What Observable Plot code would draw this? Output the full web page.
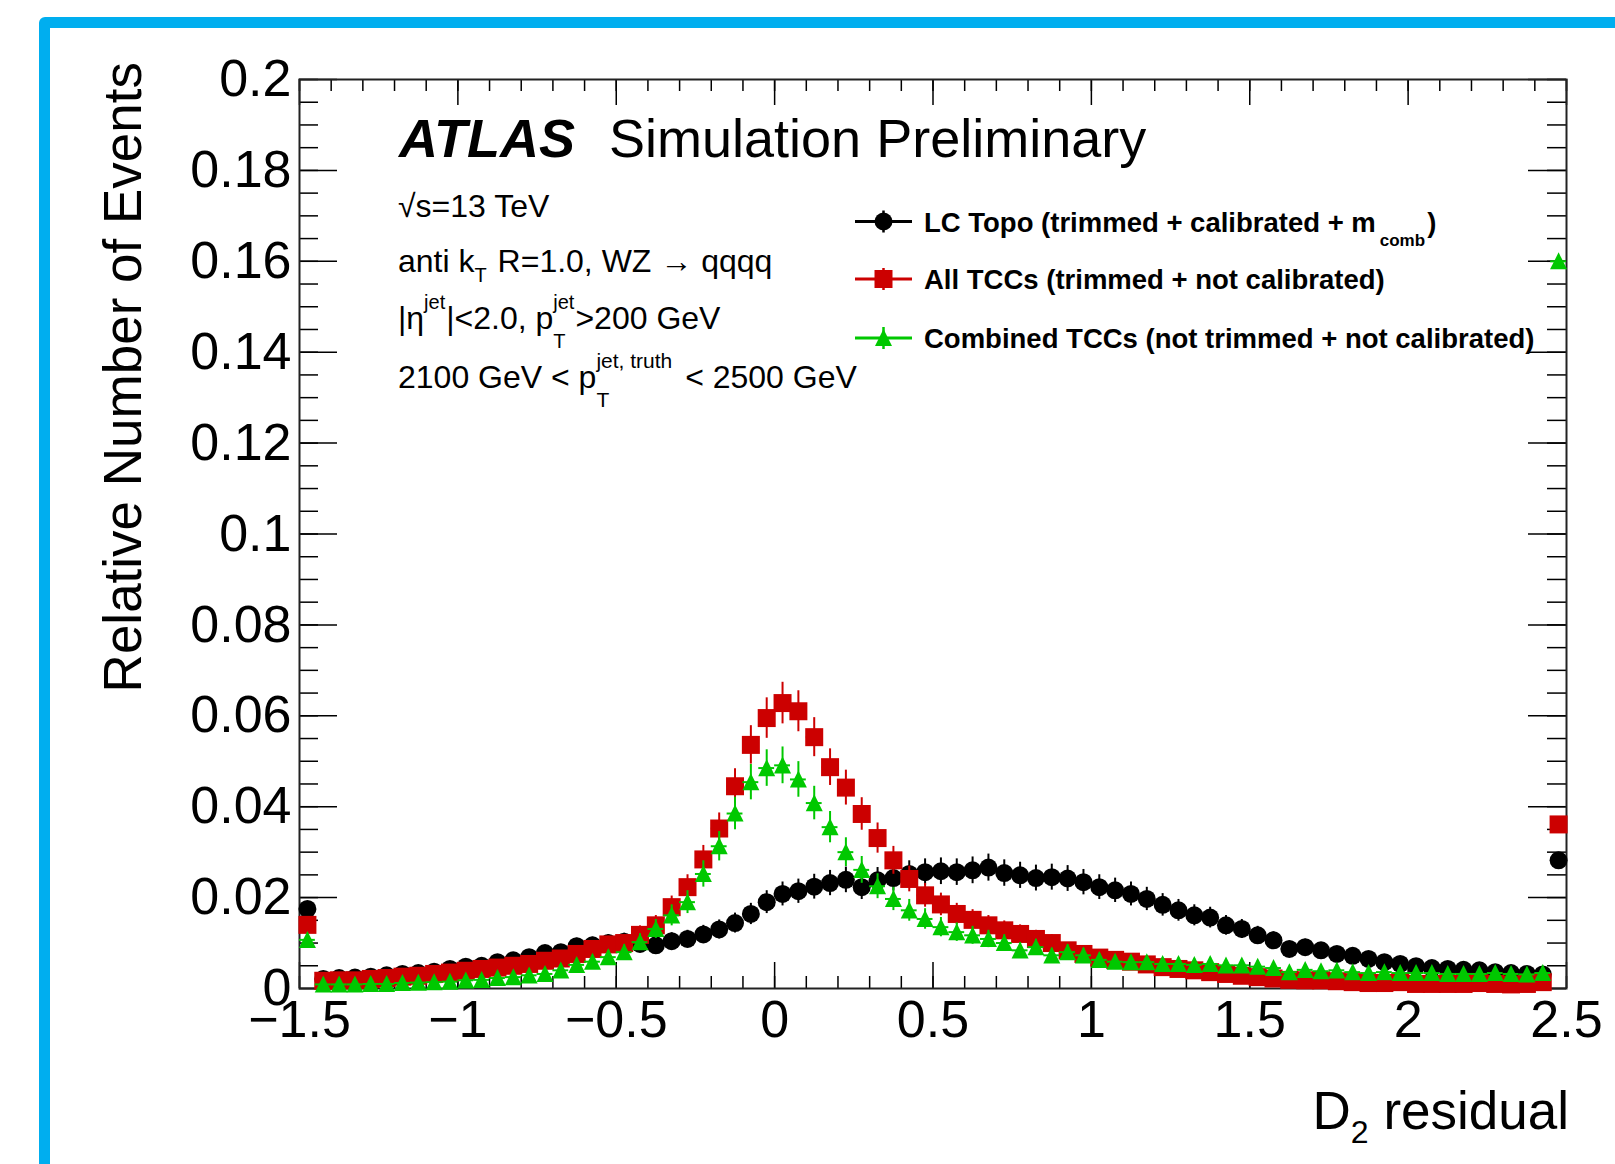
<!DOCTYPE html>
<html>
<head>
<meta charset="utf-8">
<script src="https://cdn.jsdelivr.net/npm/d3@7"></script>
<script src="https://cdn.jsdelivr.net/npm/@observablehq/plot@0.6"></script>
<style>
  html, body { margin: 0; padding: 0; background: #fff; overflow: hidden; }
  #chart { position: relative; width: 1615px; height: 1164px; overflow: hidden; background: #fff; }
  #chart svg { position: absolute; left: 0; top: 0; }
  #chart .edge {
    position: absolute; left: 39px; top: 17px; width: 1700px; height: 1300px;
    border: 11px solid #00aeef; border-radius: 6px; box-sizing: border-box; pointer-events: none;
  }
</style>
</head>
<body>
<div id="chart"></div>
<script>
// ---------------------------------------------------------------------------
// D2 residual histograms, 80 bins of width 0.05 between -1.5 and 2.5.
// Values are relative numbers of events (in-range bin contents).
// ---------------------------------------------------------------------------
const binLow = -1.5;
const binWidth = 0.05;
const nEvents = 3000; // effective jet count setting the statistical error bars

const lcTopo = [
  0.0019, 0.0021, 0.0023, 0.0024, 0.0026, 0.0029, 0.0032, 0.0034, 0.0037, 0.0043,
  0.0048, 0.0050, 0.0058, 0.0062, 0.0069, 0.0078, 0.0080, 0.0093, 0.0095, 0.0100,
  0.0103, 0.0098, 0.0095, 0.0104, 0.0109, 0.0119, 0.0130, 0.0144, 0.0164, 0.0190,
  0.0208, 0.0214, 0.0224, 0.0232, 0.0239, 0.0223, 0.0238, 0.0243, 0.0252, 0.0256,
  0.0258, 0.0256, 0.0260, 0.0266, 0.0254, 0.0249, 0.0243, 0.0245, 0.0242, 0.0234,
  0.0223, 0.0216, 0.0208, 0.0197, 0.0184, 0.0172, 0.0161, 0.0156, 0.0139, 0.0131,
  0.0117, 0.0106, 0.0087, 0.0091, 0.0084, 0.0076, 0.0072, 0.0065, 0.0058, 0.0054,
  0.0049, 0.0045, 0.0043, 0.0041, 0.0040, 0.0036, 0.0034, 0.0032, 0.0031, 0.0030
];

const allTCC = [
  0.0016, 0.0017, 0.0018, 0.0018, 0.0021, 0.0023, 0.0026, 0.0028, 0.0032, 0.0035,
  0.0039, 0.0043, 0.0046, 0.0050, 0.0054, 0.0061, 0.0066, 0.0076, 0.0087, 0.0097,
  0.0100, 0.0118, 0.0139, 0.0179, 0.0223, 0.0284, 0.0352, 0.0445, 0.0536, 0.0595,
  0.0628, 0.0610, 0.0553, 0.0487, 0.0442, 0.0384, 0.0331, 0.0282, 0.0241, 0.0205,
  0.0185, 0.0164, 0.0151, 0.0139, 0.0128, 0.0120, 0.0109, 0.0100, 0.0084, 0.0076,
  0.0068, 0.0063, 0.0059, 0.0053, 0.0047, 0.0043, 0.0040, 0.0036, 0.0032, 0.0028,
  0.0025, 0.0022, 0.0019, 0.0018, 0.0018, 0.0016, 0.0014, 0.0012, 0.0012, 0.0014,
  0.0010, 0.0010, 0.0010, 0.0010, 0.0012, 0.0010, 0.0009, 0.0010, 0.0014, 0.0012
];

const combTCC = [
  0.0009, 0.0009, 0.0009, 0.0009, 0.0010, 0.0010, 0.0012, 0.0013, 0.0014, 0.0015,
  0.0018, 0.0019, 0.0023, 0.0025, 0.0029, 0.0032, 0.0040, 0.0052, 0.0059, 0.0069,
  0.0080, 0.0102, 0.0131, 0.0161, 0.0190, 0.0252, 0.0313, 0.0385, 0.0454, 0.0485,
  0.0491, 0.0460, 0.0408, 0.0355, 0.0300, 0.0261, 0.0225, 0.0197, 0.0172, 0.0153,
  0.0135, 0.0124, 0.0117, 0.0109, 0.0100, 0.0084, 0.0091, 0.0073, 0.0080, 0.0073,
  0.0063, 0.0059, 0.0058, 0.0058, 0.0054, 0.0054, 0.0052, 0.0054, 0.0051, 0.0051,
  0.0048, 0.0045, 0.0036, 0.0041, 0.0038, 0.0040, 0.0036, 0.0034, 0.0036, 0.0034,
  0.0034, 0.0034, 0.0032, 0.0032, 0.0032, 0.0034, 0.0032, 0.0031, 0.0034, 0.0033
];

// Under- and overflow, added into the first and last bins
const underflow = { lcTopo: 0.0156, allTCC: 0.0124, combTCC: 0.0098 };
const overflow  = { lcTopo: 0.0252, allTCC: 0.0349, combTCC: 0.1567 };

// Axis ticks and labels
const xMajorTicks = [-1.5, -1, -0.5, 0, 0.5, 1, 1.5, 2, 2.5];
const xMinorTicks = d3.range(-15, 26).map(i => i / 10);
const yMajorTicks = [0, 0.02, 0.04, 0.06, 0.08, 0.1, 0.12, 0.14, 0.16, 0.18, 0.2];
const yMinorTicks = d3.range(0, 41).map(i => i * 0.005);
const xTitle = [{t: "D"}, {sub: "2"}, {t: " residual"}];
const yTitle = "Relative Number of Events";

const FONT = "'Liberation Sans', Arial, Helvetica, sans-serif";

// Marker shapes: half-size equals the radius handed in by Plot
const squareSymbol = {
  draw(ctx, size) { const r = Math.sqrt(size / Math.PI); ctx.rect(-r, -r, 2 * r, 2 * r); }
};
const triangleSymbol = {
  draw(ctx, size) {
    const r = Math.sqrt(size / Math.PI);
    ctx.moveTo(0, -r * 1.05); ctx.lineTo(r, r * 0.95); ctx.lineTo(-r, r * 0.95); ctx.closePath();
  }
};

const series = [
  { key: "lcTopo", values: lcTopo, color: "#000000", symbol: "circle", r: 9,
    label: [{t: "LC Topo (trimmed + calibrated + m"}, {sub: "comb", size: 17, dy: 14, gap: 4, pad: 2}, {t: ")"}] },
  { key: "allTCC", values: allTCC, color: "#cc0000", symbol: squareSymbol, r: 9,
    label: [{t: "All TCCs (trimmed + not calibrated)"}] },
  { key: "combTCC", values: combTCC, color: "#00c800", symbol: triangleSymbol, r: 8.5,
    label: [{t: "Combined TCCs (not trimmed + not calibrated)"}] }
];

function binRows(s) {
  const n = s.values.length;
  return s.values.map((v, i) => {
    const shown = v + (i === 0 ? underflow[s.key] : 0) + (i === n - 1 ? overflow[s.key] : 0);
    return { x: binLow + (i + 0.5) * binWidth, y: shown, err: Math.sqrt(v / nEvents) };
  });
}

// Frame geometry
const W = 1615, H = 1164;
const mL = 299, mR = 49, mT = 79, mB = 176;
const frameW = W - mL - mR, frameH = H - mT - mB;

const fmtX = d => (d < 0 ? "\u2212" + Math.abs(d) : String(d));
const fmtY = d => (d === 0 ? "0" : String(+d.toFixed(3)));

const tickStyle = { stroke: "#000", strokeWidth: 1.5 };

const dataMarks = series.flatMap(s => {
  const rows = binRows(s);
  return [
    Plot.ruleY(rows, { y: "y", x1: d => d.x - binWidth / 2, x2: d => d.x + binWidth / 2, stroke: s.color, strokeWidth: 2 }),
    Plot.ruleX(rows, { x: "x", y1: d => d.y - d.err, y2: d => d.y + d.err, stroke: s.color, strokeWidth: 2 }),
    Plot.dot(rows, { x: "x", y: "y", r: s.r, symbol: s.symbol, fill: s.color, stroke: "none" })
  ];
});

const plot = Plot.plot({
  width: W, height: H,
  marginLeft: mL, marginRight: mR, marginTop: mT, marginBottom: mB,
  style: { fontFamily: FONT, background: "transparent", color: "#000", overflow: "visible" },
  x: { domain: [-1.5, 2.5] },
  y: { domain: [0, 0.2] },
  marks: [
    Plot.axisX({ ticks: xMajorTicks, tickFormat: fmtX, tickSize: 0, tickPadding: 12, fontSize: 52, label: null }),
    Plot.axisY({ ticks: yMajorTicks, tickFormat: fmtY, tickSize: 0, tickPadding: 8, fontSize: 52, label: null }),
    // inward-pointing ticks on all four sides
    Plot.tickX(xMajorTicks, { x: d => d, insetTop: frameH - 26, ...tickStyle }),
    Plot.tickX(xMajorTicks, { x: d => d, insetBottom: frameH - 26, ...tickStyle }),
    Plot.tickX(xMinorTicks, { x: d => d, insetTop: frameH - 12, ...tickStyle }),
    Plot.tickX(xMinorTicks, { x: d => d, insetBottom: frameH - 12, ...tickStyle }),
    Plot.tickY(yMajorTicks, { y: d => d, insetRight: frameW - 38, ...tickStyle }),
    Plot.tickY(yMajorTicks, { y: d => d, insetLeft: frameW - 38, ...tickStyle }),
    Plot.tickY(yMinorTicks, { y: d => d, insetRight: frameW - 19, ...tickStyle }),
    Plot.tickY(yMinorTicks, { y: d => d, insetLeft: frameW - 19, ...tickStyle }),
    Plot.frame({ stroke: "#222", strokeWidth: 2 }),
    ...dataMarks
  ]
});

const chart = document.getElementById("chart");
chart.appendChild(plot);
const edge = document.createElement("div");
edge.className = "edge";
chart.appendChild(edge);

// ---------------------------------------------------------------------------
// Text with sub/superscripts, laid out with measured advances
// ---------------------------------------------------------------------------
const measureCtx = document.createElement("canvas").getContext("2d");
function textWidth(str, size, weight, style) {
  measureCtx.font = `${style || "normal"} ${weight || "normal"} ${size}px ${FONT}`;
  return measureCtx.measureText(str).width;
}

function richText(g, x, y, parts, opt) {
  const { size, weight = "normal", style = "normal", scriptSize = size * 0.62,
          supDy = -20, subDy = 19, subAloneDy = 10, anchor = "start" } = opt;
  const pieces = [];
  let cx = 0;
  for (const p of parts) {
    if (p.t != null) {
      pieces.push({ str: p.t, x: cx, dy: 0, size });
      cx += textWidth(p.t, size, weight, style);
    } else {
      const ss = p.size || scriptSize;
      let w = 0;
      const x0 = cx + (p.gap || 0);
      if (p.sup) {
        pieces.push({ str: p.sup, x: x0, dy: p.supDy ?? supDy, size: ss });
        w = Math.max(w, textWidth(p.sup, ss, weight, style));
      }
      if (p.sub) {
        pieces.push({ str: p.sub, x: x0, dy: p.dy ?? (p.sup ? subDy : subAloneDy), size: ss });
        w = Math.max(w, textWidth(p.sub, ss, weight, style));
      }
      cx = x0 + w + (p.pad || 0);
    }
  }
  const left = anchor === "end" ? x - cx : x;
  for (const pc of pieces) {
    g.append("text")
      .attr("x", left + pc.x).attr("y", y + pc.dy)
      .attr("text-anchor", "start")
      .attr("font-size", pc.size).attr("font-weight", weight).attr("font-style", style)
      .text(pc.str);
  }
  return cx;
}

const svg = d3.select(plot);
const notes = svg.append("g")
  .attr("font-family", FONT).attr("fill", "#000").attr("text-anchor", "start")
  .style("white-space", "pre");

// Experiment label
notes.append("text").attr("x", 399).attr("y", 157).attr("text-anchor", "start")
  .attr("font-size", 54).attr("font-weight", "bold").attr("font-style", "italic").text("ATLAS");
notes.append("text").attr("x", 609).attr("y", 157).attr("text-anchor", "start")
  .attr("font-size", 54).text("Simulation Preliminary");

// Selection description
const info = { size: 32, scriptSize: 20 };
richText(notes, 398, 217, [{t: "\u221As=13 TeV"}], info);
richText(notes, 398, 272, [{t: "anti k"}, {sub: "T", pad: 2}, {t: " R=1.0, WZ \u2192 qqqq"}], info);
richText(notes, 398, 329, [{t: "|\u03B7"}, {sup: "jet", pad: 1}, {t: "|<2.0, p"}, {sup: "jet", sub: "T", pad: 1}, {t: ">200 GeV"}], info);
richText(notes, 398, 388, [{t: "2100 GeV < p"}, {sup: "jet, truth", sub: "T", size: 21, pad: 4}, {t: " < 2500 GeV"}], info);

// Legend
const legendRows = [221.5, 279, 338];
series.forEach((s, k) => {
  const y = legendRows[k];
  notes.append("line").attr("x1", 855).attr("x2", 912).attr("y1", y).attr("y2", y)
    .attr("stroke", s.color).attr("stroke-width", 3);
  notes.append("line").attr("x1", 883.5).attr("x2", 883.5).attr("y1", y - 11).attr("y2", y + 11)
    .attr("stroke", s.color).attr("stroke-width", 2.5);
  const sym = typeof s.symbol === "string" ? d3.symbolCircle : s.symbol;
  notes.append("path")
    .attr("d", d3.symbol(sym, Math.PI * s.r * s.r)())
    .attr("transform", `translate(883.5,${y})`)
    .attr("fill", s.color);
  richText(notes, 924, y + 10, s.label, { size: 27.5, weight: "bold" });
});

// Axis titles
richText(notes, 1569, 1129, xTitle, { size: 53, scriptSize: 32, subAloneDy: 14, anchor: "end" });
notes.append("text")
  .attr("transform", "translate(141,62) rotate(-90)")
  .attr("text-anchor", "end").attr("font-size", 53)
  .text(yTitle);
</script>
</body>
</html>
